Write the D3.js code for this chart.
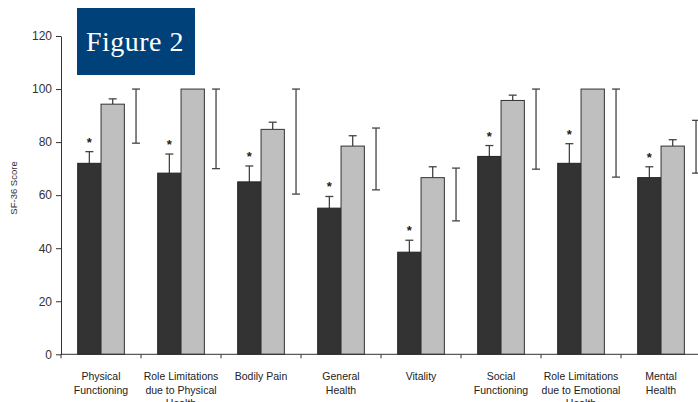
<!DOCTYPE html>
<html>
<head>
<meta charset="utf-8">
<script src="https://cdn.jsdelivr.net/npm/d3@7"></script>
<style>
  body { margin: 0; background: #fff; }
  svg { display: block; }
  .axis text { font-family: "Liberation Sans", Arial, sans-serif; font-size: 12px; fill: #333; }
  .axis path, .axis line { stroke: #333; }
</style>
</head>
<body>
<div id="chartContainer"></div>
<script>
// SF-36 domains
const categories = ["Physical Functioning", "Role Physical", "Bodily Pain", "General Health",
                    "Vitality", "Social Functioning", "Role Emotional", "Mental Health"];
const labelLines = [
  ["Physical", "Functioning"],
  ["Role Limitations", "due to Physical", "Health"],
  ["Bodily Pain"],
  ["General", "Health"],
  ["Vitality"],
  ["Social", "Functioning"],
  ["Role Limitations", "due to Emotional", "Health"],
  ["Mental", "Health"]
];
// dark bars (patients) and their error
const patientMean = [72, 68.3, 65, 55.1, 38.5, 74.6, 72, 66.6];
const patientErr  = [4.4, 7.2, 6, 4.4, 4.5, 4.1, 7.4, 4.1];
// light bars (controls) and their error
const controlMean = [94.3, 100, 84.8, 78.5, 66.6, 95.7, 100, 78.5];
const controlErr  = [2, 0, 2.7, 3.9, 4.1, 2, 0, 2.4];
// normative range
const normLow  = [79.6, 70, 60.4, 62, 50.3, 69.8, 66.8, 68.3];
const normHigh = [100, 100, 100, 85.3, 70.2, 100, 100, 88.2];
const significant = [true, true, true, true, true, true, true, true];
const yTicks = [0, 20, 40, 60, 80, 100, 120];

const W = 698, H = 402;
const svg = d3.select("#chartContainer").append("svg")
  .attr("width", W).attr("height", H);

const x = d3.scaleBand().domain(categories).range([61, 701]).padding(0);
const sub = d3.scaleBand().domain(["patient", "control", "norm"]).range([16.7, 86.7]).padding(0);
const y = d3.scaleLinear().domain([0, 120]).range([354.3, 36]);

const data = categories.map((c, i) => ({
  c, lines: labelLines[i],
  pm: patientMean[i], pe: patientErr[i],
  cm: controlMean[i], ce: controlErr[i],
  lo: normLow[i], hi: normHigh[i], sig: significant[i]
}));

// Y axis
svg.append("g")
  .attr("class", "axis")
  .attr("transform", "translate(61,0)")
  .call(d3.axisLeft(y).tickValues(yTicks).tickSize(5).tickSizeOuter(0).tickPadding(4));

svg.append("text")
  .attr("transform", "translate(17,188) rotate(-90)")
  .attr("text-anchor", "middle")
  .style("font-family", "Liberation Sans, Arial, sans-serif")
  .style("font-size", "9.5px")
  .style("fill", "#333")
  .text("SF-36 Score");

const ebColor = "#444";
function errorBar(g, cx, y1, y2, cap) {
  g.append("line").attr("x1", cx).attr("x2", cx).attr("y1", y1).attr("y2", y2);
  g.append("line").attr("x1", cx - cap).attr("x2", cx + cap).attr("y1", y1).attr("y2", y1);
}

const groups = svg.selectAll(".grp").data(data).enter().append("g")
  .attr("class", "grp")
  .attr("transform", d => `translate(${x(d.c)},0)`);

// error bars behind bars
groups.each(function(d) {
  const g = d3.select(this).append("g").attr("stroke", ebColor).attr("stroke-width", 1.3);
  const pc = sub("patient") + sub.bandwidth() / 2;
  const cc = sub("control") + sub.bandwidth() / 2;
  errorBar(g, pc, y(d.pm + d.pe), y(d.pm), 4);
  if (d.ce > 0) errorBar(g, cc, y(d.cm + d.ce), y(d.cm), 4);
  const nc = sub("norm") + sub.bandwidth() / 2;
  g.append("line").attr("x1", nc).attr("x2", nc).attr("y1", y(d.hi)).attr("y2", y(d.lo));
  g.append("line").attr("x1", nc - 4).attr("x2", nc + 4).attr("y1", y(d.hi)).attr("y2", y(d.hi));
  g.append("line").attr("x1", nc - 4).attr("x2", nc + 4).attr("y1", y(d.lo)).attr("y2", y(d.lo));
});

groups.append("rect")
  .attr("x", sub("patient")).attr("width", sub.bandwidth())
  .attr("y", d => y(d.pm)).attr("height", d => y(0) - y(d.pm))
  .attr("fill", "#333").attr("stroke", "#222").attr("stroke-width", 1);

groups.append("rect")
  .attr("x", sub("control")).attr("width", sub.bandwidth())
  .attr("y", d => y(d.cm)).attr("height", d => y(0) - y(d.cm))
  .attr("fill", "#bfbfbf").attr("stroke", "#333").attr("stroke-width", 1);

// significance stars
groups.filter(d => d.sig).append("text")
  .attr("x", sub("patient") + sub.bandwidth() / 2)
  .attr("y", d => y(d.pm + d.pe) - 5)
  .attr("text-anchor", "middle")
  .style("font-family", "Liberation Sans, Arial, sans-serif")
  .style("font-size", "13px")
  .style("font-weight", "bold")
  .style("fill", "#222")
  .text("*");

// X axis line and boundary ticks
svg.append("line")
  .attr("x1", 61).attr("x2", 701).attr("y1", y(0)).attr("y2", y(0))
  .attr("stroke", "#333");
svg.selectAll(".xtick").data(categories).enter().append("line")
  .attr("x1", d => x(d)).attr("x2", d => x(d))
  .attr("y1", y(0)).attr("y2", y(0) + 4)
  .attr("stroke", "#333");

// category labels (third lines run off the bottom, as in the original)
groups.each(function(d) {
  const t = d3.select(this).append("text")
    .attr("text-anchor", "middle")
    .style("font-family", "Liberation Sans, Arial, sans-serif")
    .style("font-size", "10.5px")
    .style("fill", "#222");
  d.lines.forEach((ln, k) => {
    t.append("tspan").attr("x", x.bandwidth() / 2).attr("y", 380 + k * 13.5).text(ln);
  });
});

// Figure badge
svg.append("rect").attr("x", 77).attr("y", 8).attr("width", 118).attr("height", 67)
  .attr("fill", "#00417a");
svg.append("text")
  .attr("x", 135).attr("y", 51)
  .attr("text-anchor", "middle")
  .style("font-family", "Liberation Serif, serif")
  .style("font-size", "28px")
  .style("letter-spacing", "0.5px")
  .style("fill", "#fff")
  .text("Figure 2");
</script>
</body>
</html>
